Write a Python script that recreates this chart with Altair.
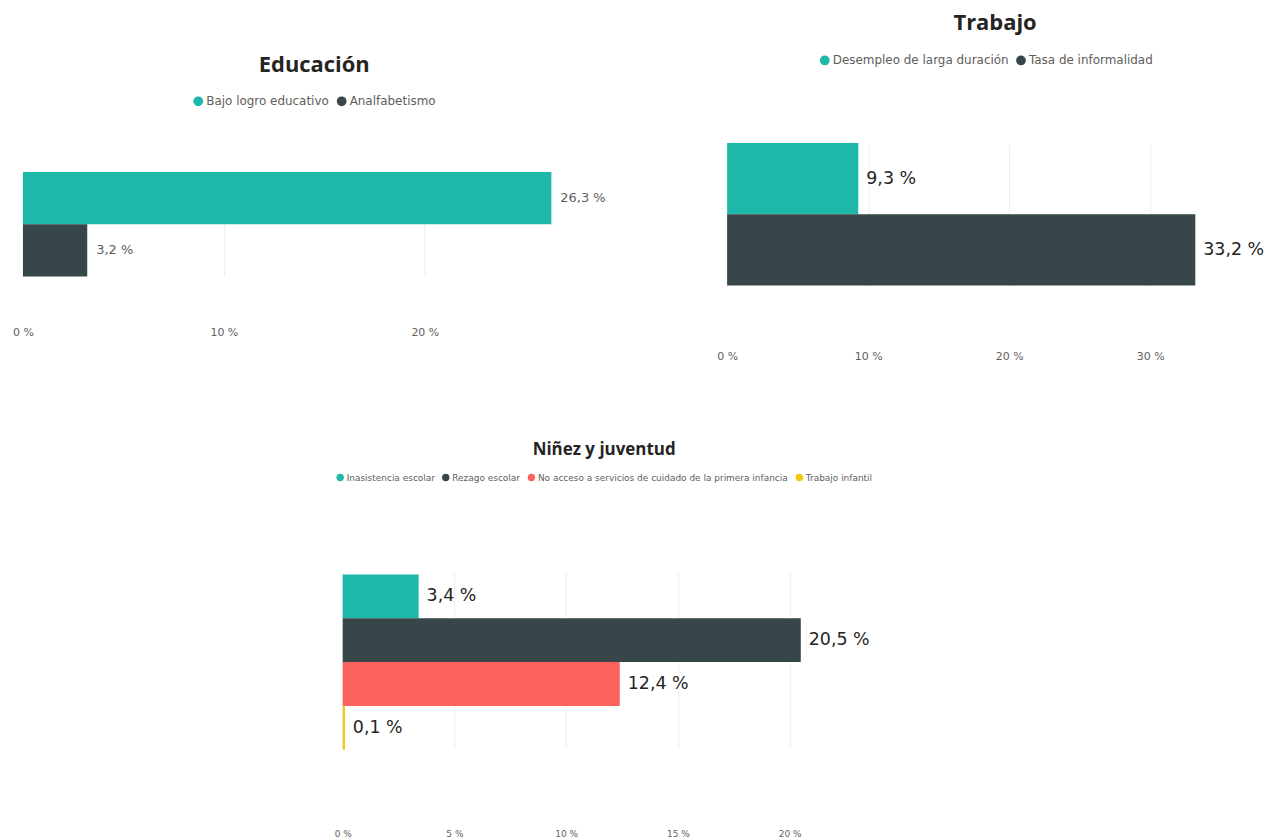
import altair as alt
import pandas as pd

# --- Educación ---
edu_series = ["Bajo logro educativo", "Analfabetismo"]
edu_values = [26.3, 3.2]
edu_ticks = [0, 10, 20]

# --- Trabajo ---
trab_series = ["Desempleo de larga duración", "Tasa de informalidad"]
trab_values = [9.3, 33.2]
trab_ticks = [0, 10, 20, 30]

# --- Niñez y juventud ---
nin_series = [
    "Inasistencia escolar",
    "Rezago escolar",
    "No acceso a servicios de cuidado de la primera infancia",
    "Trabajo infantil",
]
nin_values = [3.4, 20.5, 12.4, 0.1]
nin_ticks = [0, 5, 10, 15, 20]

palette = ["#1DB8A9", "#374649", "#FD625E", "#F2C80F"]
TFONT = "Open Sans"
FONT = "DejaVu Sans"
GREY = "#605E5C"
DARK = "#252423"


def panel(series, values, ticks, title, *, xmax, width, height, band_range,
          title_size, title_offset, leg_x, leg_y, leg_font, leg_sym,
          axis_font, axis_pad, lab_font, lab_color, lab_dx):
    df = pd.DataFrame({"serie": series, "valor": values})
    base = alt.Chart(df)
    yenc = alt.Y("serie:N", sort=series, axis=None,
                 scale=alt.Scale(paddingInner=0, paddingOuter=0, range=band_range))
    xenc = alt.X(
        "valor:Q", title=None,
        scale=alt.Scale(domain=[0, xmax], nice=False, zero=True),
        axis=alt.Axis(values=ticks, labelExpr="datum.value + ' %'", grid=True,
                      gridColor="#EEEEEE", gridWidth=1, domain=False, ticks=False,
                      labelFont=FONT, labelFontSize=axis_font, labelColor=GREY,
                      labelPadding=axis_pad, labelFlush=False),
    )
    bars = base.mark_bar().encode(
        x=xenc,
        y=yenc,
        color=alt.Color(
            "serie:N", sort=series,
            scale=alt.Scale(domain=series, range=palette[:len(series)]),
            legend=alt.Legend(title=None, orient="none", legendX=leg_x, legendY=leg_y,
                              direction="horizontal", symbolType="circle",
                              symbolSize=leg_sym, symbolStrokeWidth=0,
                              labelFont=FONT, labelFontSize=leg_font, labelColor=GREY,
                              labelLimit=0, labelOffset=2, columnPadding=6, padding=0),
        ),
    )
    labels = base.transform_calculate(
        etiqueta="replace(format(datum.valor, '.1f'), '.', ',') + ' %'"
    ).mark_text(align="left", baseline="middle", dx=lab_dx, font=FONT,
                fontSize=lab_font, color=lab_color).encode(
        x="valor:Q", y=alt.Y("serie:N", sort=series), text="etiqueta:N"
    )
    return alt.layer(bars, labels).properties(
        width=width, height=height,
        title=alt.Title(title, font=TFONT, fontSize=title_size, fontWeight="bold",
                        color=DARK, anchor="middle", offset=title_offset),
    )


def spacer(w, h):
    # invisible block used only to shift panels within the concatenated layout
    return alt.Chart(pd.DataFrame({"s": [0]})).mark_rect(opacity=0).encode(
        x=alt.value(0), x2=alt.value(w), y=alt.value(0), y2=alt.value(h)
    ).properties(width=w, height=h)


edu = panel(edu_series, edu_values, edu_ticks, "Educación",
            xmax=29, width=585, height=189, band_range=[42, 147],
            title_size=22, title_offset=18, leg_x=170, leg_y=-35,
            leg_font=12, leg_sym=95, axis_font=11, axis_pad=8,
            lab_font=13, lab_color=GREY, lab_dx=9)

trab = panel(trab_series, trab_values, trab_ticks, "Trabajo",
             xmax=38, width=538, height=258, band_range=[57, 200],
             title_size=22, title_offset=20, leg_x=92, leg_y=-32,
             leg_font=12, leg_sym=95, axis_font=11, axis_pad=7,
             lab_font=17.5, lab_color=DARK, lab_dx=8)

nin = panel(nin_series, nin_values, nin_ticks, "Niñez y juventud",
            xmax=23.4, width=525, height=322, band_range=[74, 250],
            title_size=17, title_offset=14, leg_x=-7, leg_y=-28,
            leg_font=9, leg_sym=55, axis_font=9, axis_pad=8,
            lab_font=17.5, lab_color=DARK, lab_dx=8)

top = alt.hconcat(
    alt.vconcat(spacer(1, 45), edu, spacing=0).resolve_scale(color="independent"),
    alt.vconcat(spacer(1, 2), trab, spacing=0).resolve_scale(color="independent"),
    spacing=111,
).resolve_scale(color="independent")

bottom = alt.hconcat(spacer(312, 1), nin, spacing=0).resolve_scale(color="independent")

chart = alt.vconcat(top, bottom, spacing=80).resolve_scale(
    color="independent"
).properties(
    padding={"left": 4, "top": 0, "right": 0, "bottom": 0}
).configure_view(strokeWidth=0)

chart.save("out.html", embed_options={"renderer": "svg", "actions": False})
